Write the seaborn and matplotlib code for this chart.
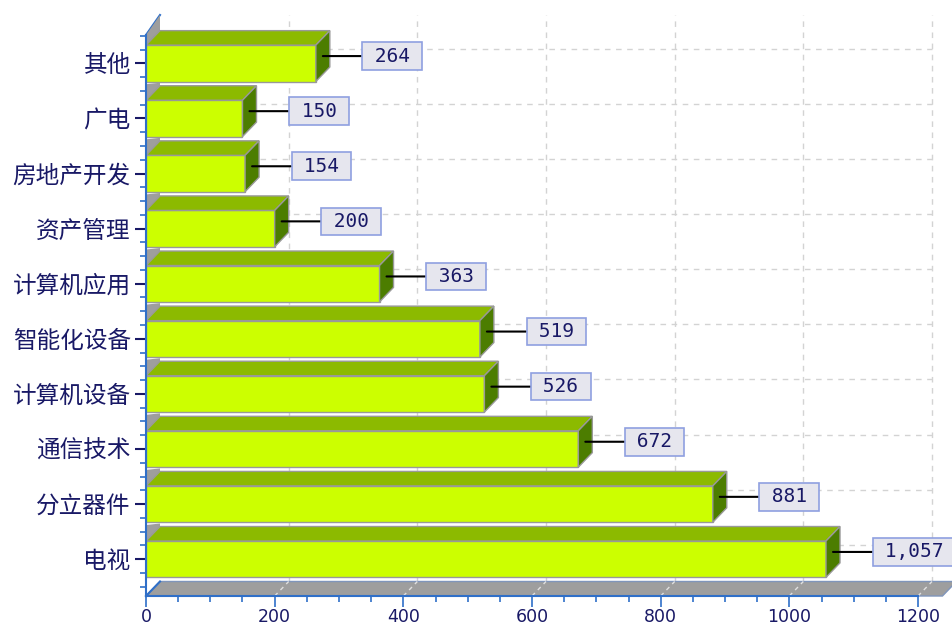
import numpy as np
import pandas as pd
import seaborn as sns
import matplotlib.pyplot as plt
from matplotlib.patches import Polygon
from matplotlib.path import Path

plt.rcParams['font.family'] = ['Noto Sans CJK SC', 'DejaVu Sans']

# 数据
categories = ['其他', '广电', '房地产开发', '资产管理', '计算机应用',
              '智能化设备', '计算机设备', '通信技术', '分立器件', '电视']
values = [264, 150, 154, 200, 363, 519, 526, 672, 881, 1057]
xticks = [0, 200, 400, 600, 800, 1000, 1200]

df = pd.DataFrame({'行业': categories, '数量': values})

# 颜色
FRONT = '#CCFF00'
TOP = '#8CBA00'
SIDE = '#4C7D00'
EDGE = '#999999'
WALL = '#9E9E9E'
AXBLUE = '#2F6FC8'
NAVY = '#191966'
GRID = '#D3D3D3'


# 标签框: 横向几乎不留白, 纵向留白多一点
def label_box(x0, y0, width, height, mutation_size):
    px, py = 0.02 * mutation_size, 0.22 * mutation_size
    xa, ya = x0 - px, y0 - py
    xb, yb = x0 + width + px, y0 + height + py
    return Path([(xa, ya), (xb, ya), (xb, yb), (xa, yb), (xa, ya)], closed=True)


fig = plt.figure(figsize=(9.53, 6.26), dpi=100)
ax = fig.add_axes([146 / 953, 30 / 626, 772 / 953, 561 / 626])
ax.set_facecolor('none')

sns.barplot(data=df, x='数量', y='行业', orient='h', color=FRONT, saturation=1,
            width=0.66, edgecolor=EDGE, linewidth=1, ax=ax, zorder=3)
bars = list(ax.patches)

ax.set_xlim(0, 1200)
y_bot, y_top = 9.668, -0.514
ax.set_ylim(y_bot, y_top)

# 3D 深度 (像素 -> 数据单位)
bb = ax.get_window_extent()
px_x = 1200 / bb.width
px_y = (y_bot - y_top) / bb.height
dx = 14 * px_x
dy = 14.5 * px_y

# 背景网格 (后墙)
for t in xticks[1:]:
    ax.plot([t + dx, t + dx], [y_bot - dy, y_top - 20 * px_y], ls=(0, (4, 4)),
            color=GRID, lw=1, zorder=0.5, clip_on=False)
    ax.plot([t, t + dx], [y_bot, y_bot - dy], ls=(0, (3, 3)), color='#E0E0E0',
            lw=1, zorder=1.5, clip_on=False)
for i in range(len(categories)):
    ax.plot([dx, 1200 + dx], [i - dy, i - dy], ls=(0, (4, 4)), color=GRID,
            lw=1, zorder=0.5, clip_on=False)

# 地板
floor_r = 1238
ax.add_patch(Polygon([(0, y_bot), (dx, y_bot - dy), (floor_r + dx, y_bot - dy), (floor_r, y_bot)],
                     closed=True, fc=WALL, ec='#7F95BB', lw=1, zorder=1, clip_on=False))
ax.plot([0, dx], [y_bot, y_bot - dy], color=AXBLUE, lw=1.5, zorder=2, clip_on=False)
ax.plot([0, dx], [y_top, y_top - 20 * px_y], color=AXBLUE, lw=1.5, zorder=2, clip_on=False)

# 立体柱子
for k, p in enumerate(bars):
    x1 = p.get_x() + p.get_width()
    ft = p.get_y()
    fb = p.get_y() + p.get_height()
    if k == 0:
        wall = [(0, ft), (0, y_top), (dx, y_top - 20 * px_y), (dx, ft - dy)]
    else:
        wall = [(0, ft), (0, ft - 16 * px_y), (dx, ft - dy - 3 * px_y), (dx, ft - dy)]
    ax.add_patch(Polygon(wall, closed=True, fc=WALL, ec='none', zorder=2, clip_on=False))
    ax.add_patch(Polygon([(0, ft), (dx, ft - dy), (x1 + dx, ft - dy), (x1, ft)],
                         closed=True, fc=TOP, ec=EDGE, lw=1, zorder=3, clip_on=False))
    ax.add_patch(Polygon([(x1, ft), (x1 + dx, ft - dy), (x1 + dx, fb - dy), (x1, fb)],
                         closed=True, fc=SIDE, ec=EDGE, lw=1, zorder=3, clip_on=False))

# 数值标签
for p, v in zip(bars, values):
    x1 = p.get_x() + p.get_width()
    yc = p.get_y() + p.get_height() / 2
    ax.annotate(f' {v:,} ', xy=(x1 + dx * 0.5, yc - dy * 0.5), xytext=(40, 0),
                textcoords='offset pixels', ha='left', va='center',
                family='DejaVu Sans Mono', fontsize=14, color=NAVY,
                bbox=dict(boxstyle=label_box, fc='#E6E6EE', ec='#8FA0E0', lw=1.2),
                arrowprops=dict(arrowstyle='-', color='black', lw=1.5, shrinkA=0, shrinkB=0),
                annotation_clip=False, zorder=6)

# 坐标轴
ax.set_xticks(xticks)
ax.set_xticks(np.arange(0, 1201, 50), minor=True)
ax.set_yticks([v for v in np.arange(-0.5, 9.6, 0.25) if v % 1 != 0], minor=True)
ax.tick_params(axis='x', which='major', length=8, width=1.2, color=AXBLUE,
               labelcolor=NAVY, labelsize=12.5, pad=1)
ax.tick_params(axis='x', which='minor', length=4, width=1.2, color=AXBLUE)
ax.tick_params(axis='y', which='major', length=8, width=1.5, color=NAVY,
               labelcolor=NAVY, labelsize=17, pad=3)
ax.tick_params(axis='y', which='minor', length=4, width=1.2, color=AXBLUE)
for lbl in ax.get_xticklabels():
    lbl.set_family('DejaVu Sans')
ax.set_xlabel('')
ax.set_ylabel('')
for s in ['top', 'right']:
    ax.spines[s].set_visible(False)
for s in ['left', 'bottom']:
    ax.spines[s].set_color(AXBLUE)
    ax.spines[s].set_linewidth(1.5)
    ax.spines[s].set_zorder(4)

fig.savefig('out.png', dpi=100)
